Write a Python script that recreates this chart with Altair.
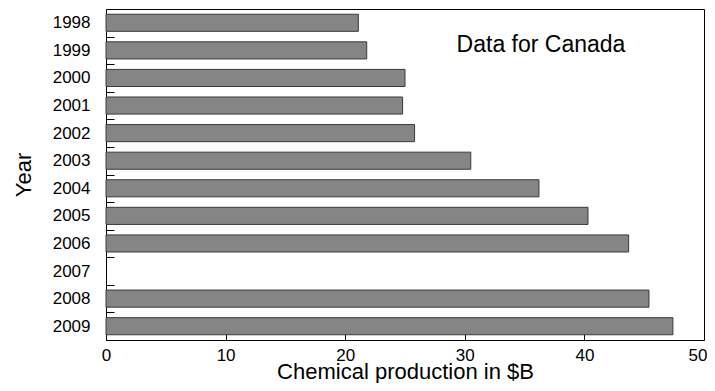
import altair as alt
import pandas as pd

years = ["1998", "1999", "2000", "2001", "2002", "2003",
         "2004", "2005", "2006", "2007", "2008", "2009"]
production = [21.1, 21.8, 25.0, 24.8, 25.8, 30.5,
              36.2, 40.3, 43.7, None, 45.4, 47.4]
x_ticks = [0, 10, 20, 30, 40, 50]
annotation = ["Data for Canada"]
x_title = "Chemical production in $B"
y_title = "Year"

df = pd.DataFrame({"Year": years, "Production": production})
note_df = pd.DataFrame({"t": annotation})

W, H = 598, 331
FONT = "Liberation Sans"
last_tick = "datum.value == %d" % x_ticks[-1]

bars = alt.Chart(df).mark_bar(
    height=alt.RelativeBandSize(0.62),
    fill="#858585", stroke="#3a3a3a", strokeWidth=1,
).encode(
    x=alt.X("Production:Q",
            scale=alt.Scale(domain=[0, 50], nice=False, zero=True),
            axis=alt.Axis(values=x_ticks, title=x_title, domain=False, grid=False,
                          tickSize={"expr": "-7"}, tickColor="black", tickWidth=1,
                          labelPadding=14, labelFlush=False,
                          labelAlign={"condition": {"test": last_tick, "value": "right"},
                                      "value": "center"},
                          labelOffset={"condition": {"test": last_tick, "value": 3},
                                       "value": 0},
                          labelFont=FONT, labelFontSize=17, labelColor="black",
                          titleFont=FONT, titleFontSize=22, titleFontWeight="normal",
                          titleColor="black", titleBaseline="alphabetic",
                          titleY=38)),
    y=alt.Y("Year:N", sort=years,
            scale=alt.Scale(domain=years, paddingInner=0, paddingOuter=0),
            axis=alt.Axis(title=y_title, domain=False, grid=False,
                          tickBand="extent", tickSize={"expr": "-8"},
                          tickColor="black", tickWidth=1,
                          labelPadding=24, labelFont=FONT, labelFontSize=17,
                          labelColor="black",
                          titleFont=FONT, titleFontSize=22, titleFontWeight="normal",
                          titleColor="black", titlePadding=17)),
)

note = alt.Chart(note_df).mark_text(
    font=FONT, fontSize=23, align="center", baseline="alphabetic", color="black"
).encode(text="t:N", x=alt.value(435), y=alt.value(43))

chart = alt.layer(bars, note).properties(
    width=W, height=H,
    padding={"left": 98, "top": 1, "right": 3, "bottom": 43},
    autosize="none",
).configure_view(stroke="black", strokeWidth=1)

chart.save("out.html", embed_options={"renderer": "svg", "actions": False})
